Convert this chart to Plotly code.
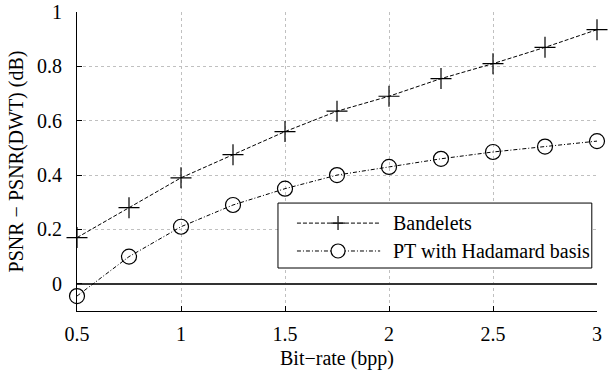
import plotly.graph_objects as go

bitrate = [0.5, 0.75, 1.0, 1.25, 1.5, 1.75, 2.0, 2.25, 2.5, 2.75, 3.0]
bandelets = [0.17, 0.28, 0.39, 0.475, 0.56, 0.635, 0.69, 0.755, 0.81, 0.87, 0.935]
pt_hadamard = [-0.045, 0.10, 0.21, 0.29, 0.35, 0.40, 0.43, 0.46, 0.485, 0.505, 0.525]
series_names = ["Bandelets", "PT with Hadamard basis"]
x_ticks = [0.5, 1, 1.5, 2, 2.5, 3]
x_ticklabels = ["0.5", "1", "1.5", "2", "2.5", "3"]
y_ticks = [0, 0.2, 0.4, 0.6, 0.8, 1]
y_ticklabels = ["0", "0.2", "0.4", "0.6", "0.8", "1"]

FONT = "'Liberation Serif', 'Times New Roman', Times, 'DejaVu Serif', serif"
DASH_B = "4px,2px"
DASH_P = "4px,2px,1px,2px"

fig = go.Figure()
fig.add_trace(go.Scatter(
    x=bitrate, y=bandelets, name=series_names[0], mode="lines+markers",
    line=dict(color="black", width=1, dash=DASH_B),
    marker=dict(symbol="cross-thin", size=15, line=dict(color="black", width=1.2), color="black"),
    showlegend=False, cliponaxis=False,
))
fig.add_trace(go.Scatter(
    x=bitrate, y=pt_hadamard, name=series_names[1], mode="lines+markers",
    line=dict(color="black", width=1, dash=DASH_P),
    marker=dict(symbol="circle-open", size=15, line=dict(color="black", width=1.2), color="black"),
    showlegend=False, cliponaxis=False,
))

# manual legend (paper coordinates)
lx0, lx1, ly0, ly1 = 0.3865, 0.990, 0.1438, 0.361
rows = [0.294, 0.2007]
seg0, seg1, mx, tx = 0.423, 0.583, 0.502, 0.604
fig.add_shape(type="rect", xref="paper", yref="paper", x0=lx0, x1=lx1, y0=ly0, y1=ly1,
              line=dict(color="black", width=1), fillcolor="white", layer="above")
for i, (name, dash) in enumerate(zip(series_names, [DASH_B, DASH_P])):
    ry = rows[i]
    fig.add_shape(type="line", xref="paper", yref="paper", x0=seg0, x1=seg1, y0=ry, y1=ry,
                  line=dict(color="black", width=1, dash=dash), layer="above")
    if i == 0:
        fig.add_shape(type="line", xref="paper", yref="paper", xsizemode="pixel", xanchor=mx,
                      x0=-7, x1=7, y0=ry, y1=ry, line=dict(color="black", width=1.2), layer="above")
        fig.add_shape(type="line", xref="paper", yref="paper", ysizemode="pixel", yanchor=ry,
                      x0=mx, x1=mx, y0=-7, y1=7, line=dict(color="black", width=1.2), layer="above")
    else:
        fig.add_shape(type="circle", xref="paper", yref="paper", xsizemode="pixel", ysizemode="pixel",
                      xanchor=mx, yanchor=ry, x0=-7, x1=7, y0=-7, y1=7,
                      line=dict(color="black", width=1.2), fillcolor="white", layer="above")
    fig.add_annotation(xref="paper", yref="paper", x=tx, y=ry, text=name, showarrow=False,
                       xanchor="left", yanchor="middle", font=dict(family=FONT, size=20, color="black"))

axis_common = dict(
    showgrid=True, gridcolor="#c0c0c0", griddash="dot", gridwidth=1,
    showline=True, linecolor="black", linewidth=1,
    ticks="inside", ticklen=5, tickcolor="black", tickwidth=1,
    tickfont=dict(family=FONT, size=20, color="black"),
    automargin=False,
)
fig.update_layout(
    width=611, height=371,
    margin=dict(l=77, r=14, t=12, b=60, autoexpand=False),
    paper_bgcolor="white", plot_bgcolor="white",
    font=dict(family=FONT, size=20, color="black"),
    showlegend=False,
    xaxis=dict(range=[0.5, 3], tickvals=x_ticks, ticktext=x_ticklabels, zeroline=False,
               title=dict(text="Bit\u2212rate (bpp)", standoff=6, font=dict(family=FONT, size=20)),
               ticklabelstandoff=5, **axis_common),
    yaxis=dict(range=[-0.1, 1], tickvals=y_ticks, ticktext=y_ticklabels,
               zeroline=True, zerolinecolor="#333333", zerolinewidth=1.6,
               title=dict(text="PSNR \u2212 PSNR(DWT) (dB)", standoff=8, font=dict(family=FONT, size=20)),
               ticklabelstandoff=10, **axis_common),
)
fig.write_html("out.html", config={"displayModeBar": False},
               post_script="document.body.style.margin='0';document.body.style.overflow='hidden';")
